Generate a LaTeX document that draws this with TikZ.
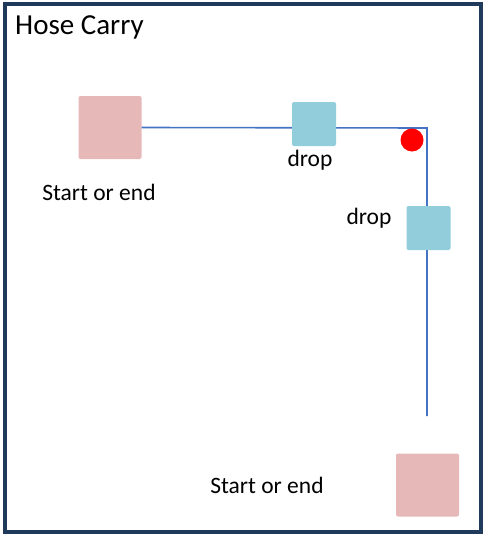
\documentclass[tikz,border=0pt]{standalone}
\usepackage{fontspec}
\setmainfont{Carlito}
\usepackage{tikz}
\usetikzlibrary{arrows}

\definecolor{framenavy}{HTML}{1F3A5A}
\definecolor{routeblue}{HTML}{4472C4}
\definecolor{dropblue}{HTML}{92CDDC}
\definecolor{endpink}{HTML}{E6B9B8}

\begin{document}
\begin{tikzpicture}[x=1pt,y=-1pt,
  end node/.style={rectangle,rounded corners=2pt,fill=endpink,minimum size=63pt,inner sep=0pt},
  drop node/.style={rectangle,rounded corners=2pt,fill=dropblue,minimum size=44pt,inner sep=0pt},
  label node/.style={font=\fontsize{23.5}{28}\selectfont,inner sep=0pt},
  route/.style={draw=routeblue,line width=1.6pt}]
  \useasboundingbox (0,0) rectangle (484,535);
  \draw[framenavy,line width=4pt] (5,4) rectangle (481,532);
  \node[anchor=west,font=\fontsize{29}{34}\selectfont,inner sep=0pt] (title) at (15,27) {Hose Carry};

  \coordinate (corner) at (427,128);
  \coordinate (tail) at (427,416);
  \node[end node] (start) at (110,127.5) {};
  \node[end node] (finish) at (427.5,485) {};
  \draw[route] (start.east) -- (corner) -- (tail);

  \node[drop node] (drop1) at (314,124) {};
  \node[drop node] (drop2) at (428.5,228) {};
  \node[fill=red,circle,minimum size=23pt,inner sep=0pt] (dot) at (412,140) {};

  \node[label node] (startlbl) at (99,192) {Start or end};
  \node[label node] (finishlbl) at (267,485) {Start or end};
  \node[label node] (droplbl1) at (310,160) {drop};
  \node[label node] (droplbl2) at (369,218) {drop};
\end{tikzpicture}
\end{document}
